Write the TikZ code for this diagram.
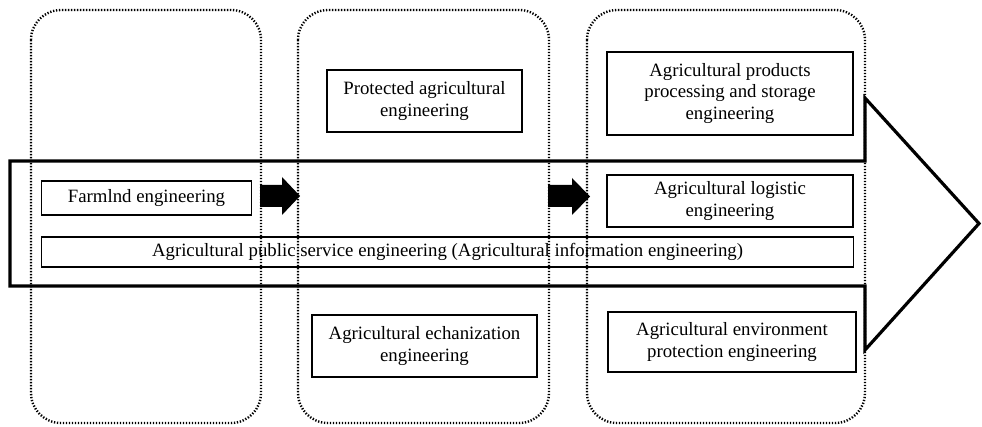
\documentclass[tikz,border=0pt]{standalone}
\usepackage{fontspec}
\setmainfont{Liberation Serif}
\usetikzlibrary{calc}
\tikzset{
	engbox/.style={draw, line width=1.6pt, align=center, inner sep=0pt, font=\fontsize{18.8}{21.5}\selectfont},
	stagebox/.style={line width=2.4pt, dash pattern=on 1.3pt off 1.7pt, rounded corners=30pt},
	flowarrow/.style={line width=3.2pt, line join=miter},
}

\begin{document}
\begin{tikzpicture}[x=1pt, y=-1pt]
			%%%%% START %%%%%
			\useasboundingbox (0, 0) rectangle (982, 427);
			
			\draw[flowarrow] (10, 161) -- (865, 161) -- (865, 98) -- (979, 223.5) -- (865, 350) -- (865, 286) -- (10, 286) -- cycle;
			
			\node[engbox, minimum width=210pt, minimum height=34pt] (farm) at (146.5, 198) {Farmlnd engineering};
			\node[engbox, minimum width=812pt, minimum height=30pt] (pub) at (447.5, 252) {Agricultural public service engineering (Agricultural information engineering)};
			
			\node[engbox, minimum width=195pt, minimum height=62pt] (prot) at (424.5, 101) {Protected agricultural\\engineering};
			\node[engbox, minimum width=225pt, minimum height=62pt] (mech) at (424.5, 346) {Agricultural echanization\\engineering};
			
			\node[engbox, minimum width=246pt, minimum height=83pt] (proc) at (730, 93.5) {Agricultural products\\processing and storage\\engineering};
			\node[engbox, minimum width=246pt, minimum height=52pt] (logi) at (730, 201) {Agricultural logistic\\engineering};
			\node[engbox, minimum width=248pt, minimum height=60pt] (envi) at (732, 342) {Agricultural environment\\protection engineering};
			
			\fill (260, 185) -- (282, 185) -- (282, 177) -- (300, 196) -- (282, 215) -- (282, 207) -- (260, 207) -- cycle;
			\fill (548, 185) -- (572, 185) -- (572, 178) -- (590, 196.5) -- (572, 215) -- (572, 207) -- (548, 207) -- cycle;
			
			\draw[stagebox] (31, 10) rectangle (261, 423);
			\draw[stagebox] (298, 10) rectangle (549, 423);
			\draw[stagebox] (587, 10) rectangle (865, 423);
			
			%%%%% END %%%%%
		\end{tikzpicture}
\end{document}
